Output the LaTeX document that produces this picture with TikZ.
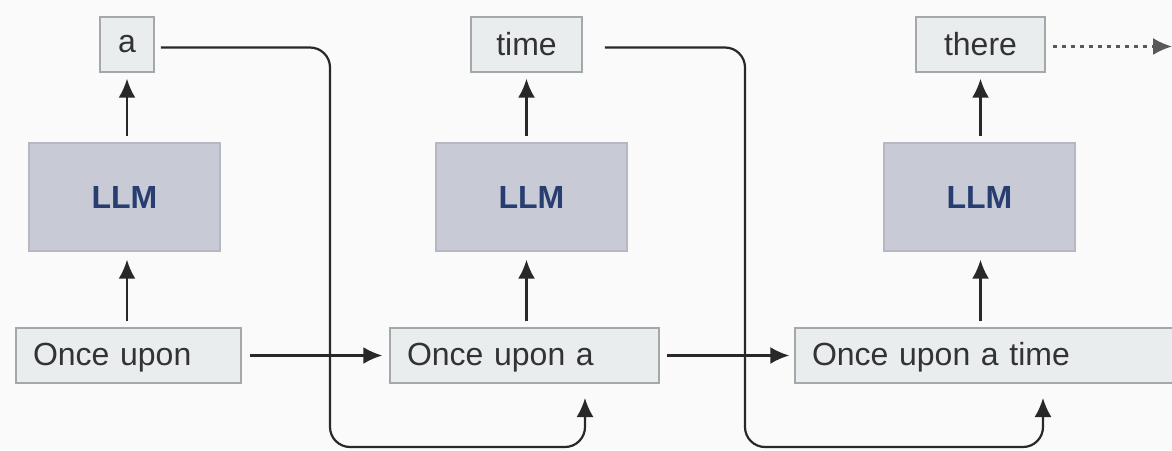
\documentclass[tikz,border=0pt]{standalone}
\usepackage{fontspec}
\setmainfont{Liberation Sans}
\usetikzlibrary{arrows.meta, positioning, calc}
\definecolor{tokenfill}{RGB}{233, 237, 238}
\definecolor{tokenline}{RGB}{165, 168, 170}
\definecolor{llmfill}{RGB}{200, 203, 213}
\definecolor{llmline}{RGB}{182, 185, 193}
\definecolor{llmtext}{RGB}{40, 62, 112}
\definecolor{arrowgray}{RGB}{40, 40, 40}
\definecolor{bggray}{RGB}{250, 250, 250}

\begin{document}
\begin{tikzpicture}[x=1pt, y=1pt,
    token/.style={draw=tokenline, fill=tokenfill, line width=1.5pt, minimum height=55pt,
        inner sep=0pt, text=black!80, font=\fontsize{32}{36}\selectfont},
    prompt/.style={token, inner xsep=17pt, align=left, text height=24pt, text depth=4pt},
    llm/.style={draw=llmline, fill=llmfill, line width=1.5pt, minimum width=191pt,
        minimum height=108pt, text=llmtext, font=\fontsize{32}{36}\selectfont\bfseries},
    flow/.style={draw=arrowgray, line width=2.2pt, -{Latex[length=19pt, width=17pt]}},
    loop/.style={flow, rounded corners=20pt},
    more/.style={flow, draw=black!65, dash pattern=on 4pt off 5pt}]
    % Canvas
    \useasboundingbox[fill=bggray] (0, 0) rectangle (1172, 450);

    % Prompts
    \node[prompt, text width=191pt] (in1) at (128.5, 94.5) {Once upon};
    \node[prompt, text width=235pt] (in2) at (524.5, 94.5) {Once upon a};
    \node[prompt, text width=351pt] (in3) at (987.5, 94.5) {Once upon a time};

    % Models
    \node[llm] (llm1) at (124.5, 253) {LLM};
    \node[llm] (llm2) at (531.5, 253) {LLM};
    \node[llm] (llm3) at (979.5, 253) {LLM};

    % Generated tokens
    \node[token, minimum width=54pt] (out1) at (127, 405.5) {a};
    \node[token, minimum width=111pt] (out2) at (526.5, 405.5) {time};
    \node[token, minimum width=129pt] (out3) at (980.5, 405.5) {there};

    % Prompt -> LLM -> token
    \foreach \i in {1, 2, 3} {
        \draw[flow, shorten <=6pt, shorten >=8pt] (in\i.north -| out\i.south) -- (llm\i.south -| out\i.south);
        \draw[flow, shorten <=6pt, shorten >=6pt] (llm\i.north -| out\i.south) -- (out\i.south);
    }

    % Prompt -> next prompt
    \draw[flow, shorten <=8pt, shorten >=7pt] (in1.east) -- (in2.west);
    \draw[flow, shorten <=7pt, shorten >=5pt] (in2.east) -- (in3.west);

    % Token appended to the next prompt
    \coordinate (drop1) at (330, 3);
    \coordinate (back1) at (585, 52);
    \coordinate (drop2) at (745, 3);
    \coordinate (back2) at (1043, 52);
    \draw[loop, shorten <=6pt] ([yshift=-3pt]out1.east) -| (drop1) -| (back1);
    \draw[loop, shorten <=22pt] ([yshift=-3pt]out2.east) -| (drop2) -| (back2);

    % Continues
    \coordinate (next) at (1172, 403.5);
    \draw[more, shorten <=7pt] ([yshift=-2pt]out3.east) -- (next);
\end{tikzpicture}
\end{document}
